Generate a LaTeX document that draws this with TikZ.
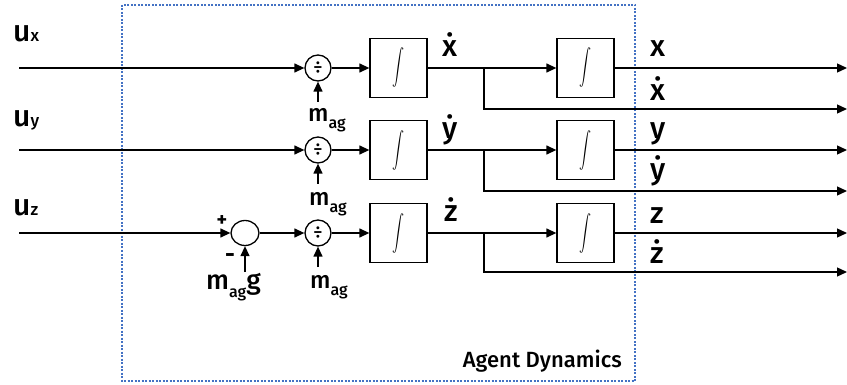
\documentclass[tikz,border=0pt]{standalone}
\usepackage{fontspec}
\setmainfont{Fira Sans}[UprightFont=* Medium, BoldFont=* Bold]
\usetikzlibrary{arrows.meta,calc,shapes.geometric}
\definecolor{framecol}{RGB}{68,114,196}
\newcommand{\lowsub}[1]{\raisebox{-7pt}{\fontsize{16}{16}\selectfont #1}}
\newcommand{\basesub}[1]{{\fontsize{17}{17}\selectfont #1}}
\newcommand{\integ}{\scalebox{1.2}[1.8]{$\displaystyle\int$}}
\begin{document}
\begin{tikzpicture}[x=1pt,y=-1pt,
  wire/.style={line width=1.3pt},
  arr/.style={wire,-{Triangle[length=10pt,width=9pt]}},
  intbox/.style={draw,line width=1.3pt,minimum width=57pt,minimum height=59pt,inner sep=0pt},
  divc/.style={draw,circle,line width=1.3pt,minimum size=26pt,inner sep=0pt,font=\fontsize{18}{18}\selectfont},
  sumc/.style={draw,ellipse,line width=1.3pt,minimum width=28pt,minimum height=25pt,inner sep=0pt},
  biglab/.style={anchor=base west,inner sep=0pt,font=\fontsize{30}{32}\selectfont},
  mlab/.style={anchor=base west,inner sep=0pt,font=\fontsize{24}{26}\selectfont},
  signlab/.style={inner sep=0pt,font=\bfseries\fontsize{20}{20}\selectfont},
  frame/.style={draw=framecol,line width=1.2pt,dash pattern=on 2pt off 1.5pt}
]
\useasboundingbox (0,0) rectangle (847,385);
% frame
\draw[frame] (122,5) rectangle (635,381);
\node[anchor=base east,inner sep=0pt,font=\fontsize{22}{24}\selectfont] (title) at (622,367) {Agent Dynamics};
% input labels
\node[biglab] (lux) at (13,42) {u\basesub{x}};
\node[biglab] (luy) at (13,127) {u\basesub{y}};
\node[biglab] (luz) at (13,215) {u\basesub{z}};
% input coordinates
\coordinate (inx) at (19,68);
\coordinate (iny) at (19,150);
\coordinate (inz) at (19,233);
% division blocks
\node[divc] (dx) at (318,68) {÷};
\node[divc] (dy) at (318,150) {÷};
\node[divc] (dz) at (318,233) {÷};
% sum
\node[sumc] (s) at (245,233) {};
% integrators
\node[intbox] (ix1) at (398.5,68) {\integ};
\node[intbox] (ix2) at (585.5,68) {\integ};
\node[intbox] (iy1) at (398.5,150) {\integ};
\node[intbox] (iy2) at (585.5,150) {\integ};
\node[intbox] (iz1) at (398.5,233) {\integ};
\node[intbox] (iz2) at (585.5,233) {\integ};
% branch points and outputs
\coordinate (bx) at (484,68);
\coordinate (by) at (484,150);
\coordinate (bz) at (484,233);
\coordinate (ox) at (847,68);
\coordinate (oxd) at (847,109);
\coordinate (oy) at (847,150);
\coordinate (oyd) at (847,191);
\coordinate (oz) at (847,233);
\coordinate (ozd) at (847,272);
% m_ag feed coordinates
\coordinate (mx) at (318,102);
\coordinate (my) at (318,184);
\coordinate (mz) at (318,267);
\coordinate (mg) at (245,272);
% wires
\draw[arr] (inx) -- (dx);
\draw[arr] (iny) -- (dy);
\draw[arr] (inz) -- (s);
\draw[arr] (s) -- (dz);
\draw[arr] (dx) -- (ix1);
\draw[arr] (dy) -- (iy1);
\draw[arr] (dz) -- (iz1);
\draw[arr] (ix1) -- (ix2);
\draw[arr] (iy1) -- (iy2);
\draw[arr] (iz1) -- (iz2);
\draw[arr] (bx) |- (oxd);
\draw[arr] (by) |- (oyd);
\draw[arr] (bz) |- (ozd);
\draw[arr] (ix2) -- (ox);
\draw[arr] (iy2) -- (oy);
\draw[arr] (iz2) -- (oz);
\draw[arr] (mx) -- (dx);
\draw[arr] (my) -- (dy);
\draw[arr] (mz) -- (dz);
\draw[arr] (mg) -- (s);
% m labels
\node[mlab] (lmx) at (308,122) {m\lowsub{ag}};
\node[mlab] (lmy) at (309,206) {m\lowsub{ag}};
\node[mlab] (lmz) at (310,288) {m\lowsub{ag}};
\node[mlab,font=\fontsize{27}{28}\selectfont] (lmg) at (206,290) {m\lowsub{ag}g};
\node[signlab] (plus) at (222,221) {+};
\node[signlab,font=\bfseries\fontsize{24}{24}\selectfont] (minus) at (230,258) {-};
% signal labels
\node[biglab] (lxd) at (442,57) {\.{x}};
\node[biglab] (lyd) at (442,139) {\.{y}};
\node[biglab] (lzd) at (444,222) {\.{z}};
\node[biglab] (lx) at (650,57) {x};
\node[biglab] (lxd2) at (650,101) {\.{x}};
\node[biglab] (ly) at (650,139) {y};
\node[biglab] (lyd2) at (650,180) {\.{y}};
\node[biglab] (lz) at (650,224) {z};
\node[biglab] (lzd2) at (650,264) {\.{z}};
\end{tikzpicture}
\end{document}
